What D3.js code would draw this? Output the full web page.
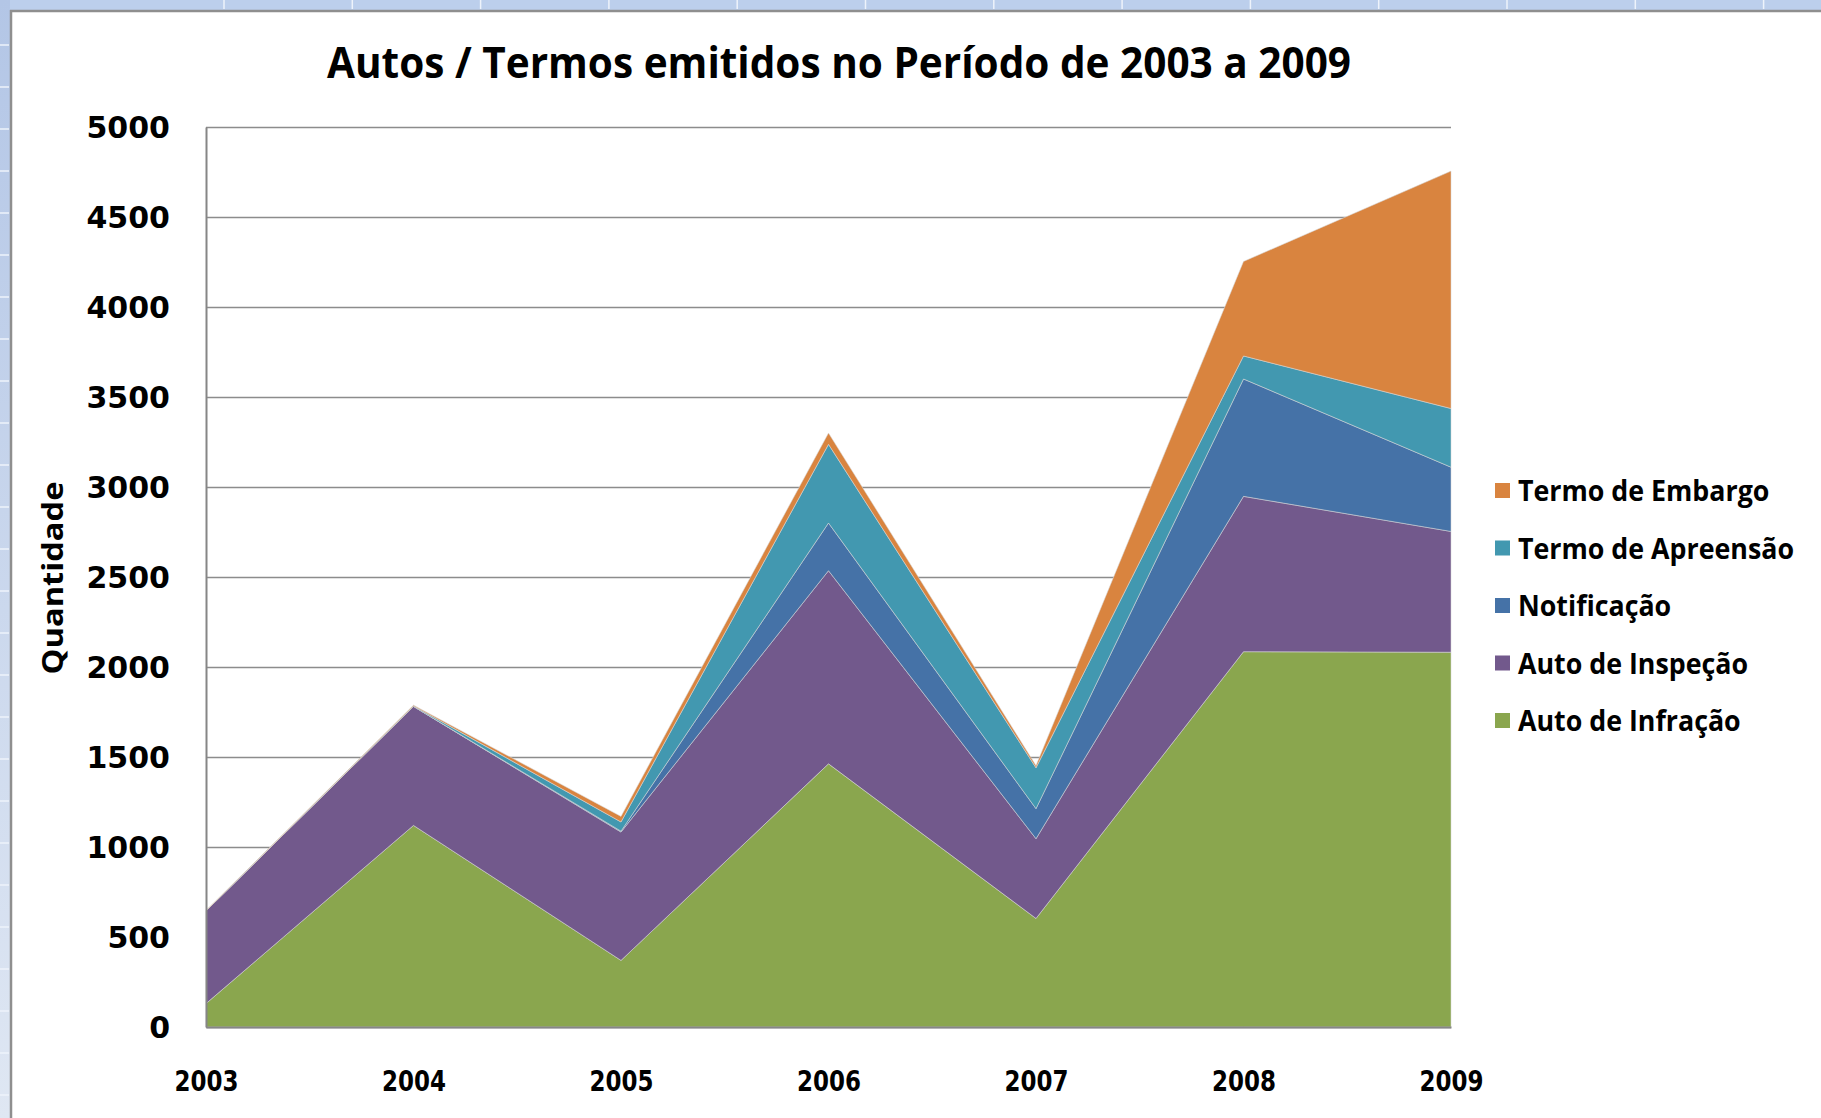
<!DOCTYPE html>
<html>
<head>
<meta charset="utf-8">
<script src="https://cdn.jsdelivr.net/npm/d3@7.9.0/dist/d3.min.js"></script>
<style>
  body { margin: 0; background: #fff; }
  svg { display: block; }
</style>
</head>
<body>
<svg id="chart" width="1821" height="1118"></svg>
<script>
// Data
const years = ['2003', '2004', '2005', '2006', '2007', '2008', '2009'];
const autoInfracao = [130, 1120, 370, 1462, 603, 2085, 2082];
const autoInspecao = [515, 661, 713, 1073, 443, 863, 671];
const notificacao = [0, 0, 5, 265, 167, 652, 357];
const termoApreensao = [0, 3, 51, 437, 227, 128, 326];
const termoEmbargo = [2, 4, 31, 63, 12, 525, 1319];
const yTicks = [0, 500, 1000, 1500, 2000, 2500, 3000, 3500, 4000, 4500, 5000];

const seriesNames = ['Auto de Infração', 'Auto de Inspeção', 'Notificação', 'Termo de Apreensão', 'Termo de Embargo'];
const seriesValues = [autoInfracao, autoInspecao, notificacao, termoApreensao, termoEmbargo];
const seriesColors = ['#8aa64e', '#72598c', '#4572a7', '#4298b0', '#d9843f'];

const svg = d3.select('#chart');
const W = 1821, H = 1118;
const margin = { left: 206, right: 1451, top: 127, bottom: 1027 };

// spreadsheet frame around the chart
const grad = svg.append('defs').append('linearGradient')
    .attr('id', 'sideGrad').attr('x1', 0).attr('y1', 0).attr('x2', 0).attr('y2', 1);
grad.append('stop').attr('offset', '0%').attr('stop-color', '#b3c6e6');
grad.append('stop').attr('offset', '100%').attr('stop-color', '#dfe7f3');
svg.append('rect').attr('x', 0).attr('y', 0).attr('width', W).attr('height', 10).attr('fill', '#bccfec');
svg.append('rect').attr('x', 0).attr('y', 0).attr('width', 10).attr('height', H).attr('fill', 'url(#sideGrad)');
svg.selectAll('.colsep').data(d3.range(224, W, 128.3)).join('line')
    .attr('x1', d => d).attr('x2', d => d).attr('y1', 0).attr('y2', 9)
    .attr('stroke', '#eef3fb').attr('stroke-width', 1.5);
svg.selectAll('.rowsep').data(d3.range(45, H, 42)).join('line')
    .attr('x1', 0).attr('x2', 9).attr('y1', d => d).attr('y2', d => d)
    .attr('stroke', '#eef3fb').attr('stroke-width', 1.5);
svg.append('line').attr('x1', 10).attr('x2', W).attr('y1', 11).attr('y2', 11)
    .attr('stroke', '#8f8f8f').attr('stroke-width', 2.5);
svg.append('line').attr('x1', 11).attr('x2', 11).attr('y1', 10).attr('y2', H)
    .attr('stroke', '#8f8f8f').attr('stroke-width', 2.5);

// scales
const x = d3.scalePoint().domain(years).range([margin.left, margin.right]);
const y = d3.scaleLinear().domain([0, 5000]).range([margin.bottom, margin.top]);

// gridlines
svg.append('g')
    .attr('transform', `translate(${margin.left},0)`)
    .call(d3.axisLeft(y).tickValues(yTicks).tickSize(-(margin.right - margin.left)).tickFormat(''))
    .call(g => g.select('.domain').remove())
    .call(g => g.selectAll('line').attr('stroke', '#8c8c8c').attr('stroke-width', 1.6));

// stacked areas
const table = years.map((yr, i) => {
    const row = { year: yr };
    seriesNames.forEach((s, k) => { row[s] = seriesValues[k][i]; });
    return row;
});
const stack = d3.stack().keys(seriesNames);
const layers = stack(table);

const area = d3.area()
    .x(d => x(d.data.year))
    .y0(d => y(d[0]))
    .y1(d => y(d[1]));

svg.append('g').selectAll('path').data(layers).join('path')
    .attr('d', area)
    .attr('fill', (d, i) => seriesColors[i])
    .attr('stroke', 'rgba(215,215,215,0.55)')
    .attr('stroke-width', 1);

// axes
const yAxis = svg.append('g')
    .attr('transform', `translate(${margin.left},0)`)
    .call(d3.axisLeft(y).tickValues(yTicks).tickSize(0).tickPadding(36).tickFormat(d3.format('d')));
yAxis.select('.domain').attr('stroke', '#868686').attr('stroke-width', 2);
yAxis.selectAll('text')
    .attr('font-family', 'DejaVu Sans')
    .attr('font-weight', 'bold')
    .attr('font-size', 30)
    .attr('fill', '#000')
    .attr('dy', '0.36em');

const xAxis = svg.append('g')
    .attr('transform', `translate(0,${margin.bottom})`)
    .call(d3.axisBottom(x).tickSize(0).tickPadding(0));
xAxis.select('.domain').attr('stroke', '#868686').attr('stroke-width', 2);
xAxis.selectAll('text')
    .attr('font-family', 'DejaVu Sans Condensed, DejaVu Sans')
    .attr('font-weight', 'bold')
    .attr('font-size', 29)
    .attr('fill', '#000')
    .attr('y', 54)
    .attr('dy', '0.36em')
    .attr('textLength', 64)
    .attr('lengthAdjust', 'spacingAndGlyphs');

// title
svg.append('text')
    .attr('x', 839).attr('y', 78)
    .attr('text-anchor', 'middle')
    .attr('font-family', 'Open Sans')
    .attr('font-weight', 'bold')
    .attr('font-size', 43)
    .attr('textLength', 1024)
    .attr('lengthAdjust', 'spacingAndGlyphs')
    .text('Autos / Termos emitidos no Período de 2003 a 2009');

// y axis title
svg.append('text')
    .attr('transform', 'translate(63,578) rotate(-90)')
    .attr('text-anchor', 'middle')
    .attr('font-family', 'Open Sans')
    .attr('font-weight', 'bold')
    .attr('font-size', 29)
    .attr('textLength', 193)
    .attr('lengthAdjust', 'spacingAndGlyphs')
    .text('Quantidade');

// legend (top series first)
const legendItems = seriesNames.map((s, i) => ({ name: s, color: seriesColors[i] })).reverse();
const legend = svg.append('g').attr('transform', 'translate(1495,491)');
const rows = legend.selectAll('g').data(legendItems).join('g')
    .attr('transform', (d, i) => `translate(0,${i * 57.5})`);
rows.append('rect')
    .attr('x', 0).attr('y', -8).attr('width', 15).attr('height', 15)
    .attr('fill', d => d.color);
const labels = rows.append('text')
    .attr('x', 23).attr('y', 0).attr('dy', '0.36em')
    .attr('font-family', 'Open Sans')
    .attr('font-weight', 'bold')
    .attr('font-size', 29)
    .attr('fill', '#000')
    .text(d => d.name);
// squeeze legend text to the narrower original face
const ref = labels.filter(d => d.name === 'Termo de Apreensão').node().getComputedTextLength();
const k = 276 / ref;
labels.each(function () {
    const len = this.getComputedTextLength();
    d3.select(this).attr('textLength', len * k).attr('lengthAdjust', 'spacingAndGlyphs');
});
</script>
</body>
</html>
